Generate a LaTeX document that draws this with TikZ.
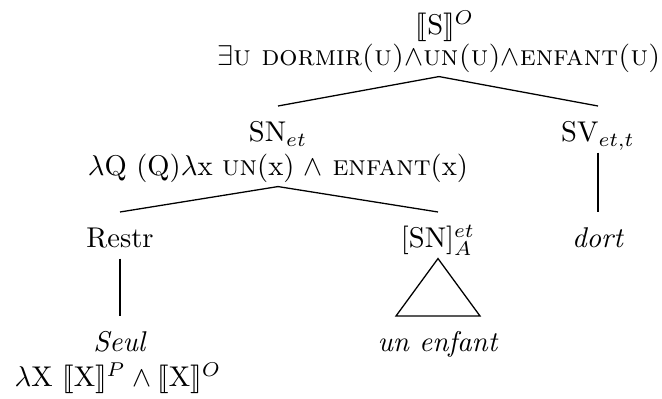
\documentclass[tikz,border=0pt]{standalone}
\usepackage{amsmath,amssymb}
\usepackage{stmaryrd}
\usepackage{tikz}
\newcommand{\den}[1]{\llbracket\mathrm{#1}\rrbracket}
\tikzset{
  cat/.style={inner sep=0pt,anchor=base,text height=12.4pt,text depth=3.5pt},
  sem/.style={inner sep=0pt,anchor=base,text depth=3.5pt},
  br/.style={line width=0.45pt},
}
\begin{document}
\begin{tikzpicture}[x=0.35pt,y=-0.35pt]
  \useasboundingbox (0,0) rectangle (662,399);
  % root
  \node[cat] (s) at (445,35) {$\den{S}^O$};
  \node[sem] (ssem) at (439,66) {$\exists$\textsc{u dormir(u)}$\wedge$\textsc{un(u)}$\wedge$\textsc{enfant(u)}};
  % level 1
  \node[cat] (sn) at (278,142) {SN$_{et}$};
  \node[sem] (snsem) at (278,176) {$\lambda$Q (Q)$\lambda$x \textsc{un}(x) $\wedge$ \textsc{enfant}(x)};
  \node[cat] (sv) at (598,142) {SV$_{et,t}$};
  \draw[br] (ssem.south) -- (sn.north);
  \draw[br] (ssem.south) -- (sv.north);
  % level 2
  \node[cat] (restr) at (120,248) {Restr};
  \node[cat] (snA) at (438,248) {[SN]$^{et}_{A}$};
  \node[cat] (dort) at (598,248) {\textit{dort}};
  \draw[br] (snsem.south) -- (restr.north);
  \draw[br] (snsem.south) -- (snA.north);
  \draw[br] (sv.south) -- (dort.north);
  % leaves
  \node[cat] (seul) at (120,352) {\textit{Seul}};
  \node[sem] (seulsem) at (118,387) {$\lambda$X $\den{X}^P \wedge \den{X}^O$};
  \node[cat] (unenf) at (438,352) {\textit{un enfant}};
  \draw[br] (restr.south) -- (seul.north);
  \draw[br] (snA.south) -- ([xshift=-14.7pt]unenf.north) -- ([xshift=14.7pt]unenf.north) -- cycle;
\end{tikzpicture}
\end{document}
